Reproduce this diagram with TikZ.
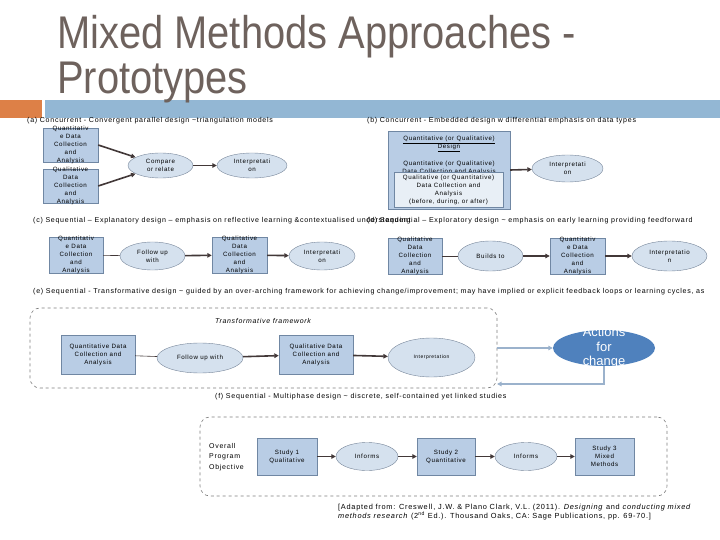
\documentclass[tikz,border=0pt]{standalone}
\usepackage{fontspec}
\setmainfont{Liberation Sans}
\newfontfamily\spaced[LetterSpace=10]{Liberation Sans}
\usetikzlibrary{shapes.geometric,arrows.meta}
\definecolor{titlebrown}{RGB}{110,98,93}
\definecolor{orangebar}{RGB}{221,128,71}
\definecolor{bluebar}{RGB}{147,183,212}
\definecolor{boxfill}{RGB}{185,205,229}
\definecolor{boxline}{RGB}{112,135,163}
\definecolor{innerfill}{RGB}{232,239,246}
\definecolor{ellfill}{RGB}{213,225,238}
\definecolor{ellline}{RGB}{118,133,153}
\definecolor{arrdark}{RGB}{66,56,56}
\definecolor{arrlight}{RGB}{155,178,204}
\definecolor{actfill}{RGB}{79,129,189}
\definecolor{framegray}{RGB}{125,125,125}
\begin{document}
\begin{tikzpicture}[x=1bp,y=-1bp,
	captxt/.style={anchor=west, inner sep=0pt, font=\spaced\fontsize{7.1}{9}\selectfont},
	nodetxt/.style={align=center, inner sep=0pt, font=\spaced\fontsize{6.2}{8}\selectfont},
	databox/.style={draw=boxline, fill=boxfill, inner sep=0pt, nodetxt},
	phase/.style={ellipse, draw=ellline, fill=ellfill, inner sep=0pt, nodetxt},
	heavy/.style={draw=arrdark, line width=1.6bp, -{Triangle[length=4.5bp,width=4.5bp]}},
	plainlink/.style={draw=arrdark, line width=0.6bp},
	lightarr/.style={draw=arrlight, line width=1.6bp, -{Triangle[length=4.5bp,width=4.5bp]}},
	frame/.style={draw=framegray, dashed, line width=0.6bp, rounded corners=10bp, inner sep=0pt}]
	\useasboundingbox (0,0) rectangle (720,540);
	\fill[orangebar] (0,100) rectangle (42,118);
	\fill[bluebar] (45,100) rectangle (720,118);
	\node[anchor=north west, inner sep=0pt, align=left, text=titlebrown,
		font=\fontsize{46}{45}\selectfont] (title) at (57,15)
		{\scalebox{0.87}[1]{Mixed Methods Approaches -}\\\scalebox{0.87}[1]{Prototypes}};
	% (a)
	\node[captxt] (capa) at (27,121) {(a) Concurrent - Convergent parallel design \textasciitilde triangulation models};
	\node[databox, minimum width=55bp, minimum height=34bp,
		label={[nodetxt]center:{Quantitativ\\e Data\\Collection\\and\\Analysis}}] (quanta) at (70.5,145) {};
	\node[databox, minimum width=55bp, minimum height=34bp,
		label={[nodetxt]center:{Qualitative\\Data\\Collection\\and\\Analysis}}] (quala) at (70.5,186) {};
	\node[phase, minimum width=65bp, minimum height=25bp] (compare) at (160.5,165.5) {Compare\\or relate};
	\node[phase, minimum width=70bp, minimum height=25bp] (interpa) at (252,165.5) {Interpretati\\on};
	\draw[heavy] (quanta.east) -- (compare);
	\draw[heavy] (quala.east) -- (compare);
	\draw[heavy] (compare) -- (interpa);
	% (b)
	\node[captxt] (capb) at (367,121) {(b) Concurrent - Embedded design w differential emphasis on data types};
	\node[databox, minimum width=122bp, minimum height=78bp] (design) at (449,170) {};
	\node[nodetxt, anchor=north] (designtxt) at (449,136)
		{\underline{Quantitative (or Qualitative)}\\\underline{Design}};
	\node[nodetxt, anchor=north] (maintxt) at (449,161)
		{Quantitative (or Qualitative)\\Data Collection and Analysis};
	\node[databox, fill=innerfill, minimum width=109bp, minimum height=35bp] (embedded) at (448.5,189.5)
		{Qualitative (or Quantitative)\\Data Collection and\\Analysis\\(before, during, or after)};
	\node[phase, minimum width=71bp, minimum height=27bp] (interpb) at (567.5,168.5) {Interpretati\\on};
	\draw[heavy] (design.east) -- (interpb);
	% (c)
	\node[captxt] (capc) at (33,221) {(c) Sequential – Explanatory design – emphasis on reflective learning \&contextualised understanding};
	\node[databox, minimum width=54bp, minimum height=36bp,
		label={[nodetxt]center:{Quantitativ\\e Data\\Collection\\and\\Analysis}}] (quantc) at (76,255) {};
	\node[phase, minimum width=65bp, minimum height=28bp] (followc) at (152.5,256) {Follow up\\with};
	\node[databox, minimum width=55bp, minimum height=36bp,
		label={[nodetxt]center:{Qualitative\\Data\\Collection\\and\\Analysis}}] (qualc) at (239.5,255) {};
	\node[phase, minimum width=66bp, minimum height=28bp] (interpc) at (322,256) {Interpretati\\on};
	\draw[plainlink] (quantc) -- (followc);
	\draw[heavy] (followc) -- (qualc);
	\draw[heavy] (qualc) -- (interpc);
	% (d)
	\node[captxt] (capd) at (367,221) {(d) Sequential – Exploratory design \textasciitilde\ emphasis on early learning providing feedforward};
	\node[databox, minimum width=54bp, minimum height=36bp,
		label={[nodetxt]center:{Qualitative\\Data\\Collection\\and\\Analysis}}] (quald) at (415,256) {};
	\node[phase, minimum width=65bp, minimum height=30bp] (builds) at (490.5,256) {Builds to};
	\node[databox, minimum width=55bp, minimum height=36bp,
		label={[nodetxt]center:{Quantitativ\\e Data\\Collection\\and\\Analysis}}] (quantd) at (577.5,256) {};
	\node[phase, minimum width=75bp, minimum height=30bp] (interpd) at (669.5,256) {Interpretatio\\n};
	\draw[plainlink] (quald) -- (builds);
	\draw[heavy] (builds) -- (quantd);
	\draw[heavy] (quantd) -- (interpd);
	% (e)
	\node[captxt] (cape) at (33,292) {(e) Sequential - Transformative design \textasciitilde\ guided by an over-arching framework for achieving change/improvement; may have implied or explicit feedback loops or learning cycles, as};
	\node[frame, minimum width=467bp, minimum height=80bp] (transform) at (263.5,348) {};
	\node[nodetxt, font=\spaced\itshape\fontsize{7}{8}\selectfont] (transtxt) at (263,321) {Transformative framework};
	\node[databox, minimum width=74bp, minimum height=39bp] (quante) at (98,354.5) {Quantitative Data\\Collection and\\Analysis};
	\node[phase, minimum width=86bp, minimum height=30bp] (followe) at (200,358) {Follow up with};
	\node[databox, minimum width=74bp, minimum height=39bp] (quale) at (316,354.5) {Qualitative Data\\Collection and\\Analysis};
	\node[phase, minimum width=87bp, minimum height=39bp, font=\spaced\fontsize{5}{6}\selectfont] (interpe) at (431.5,357.5) {Interpretation};
	\node[ellipse, fill=actfill, inner sep=0pt, minimum width=102bp, minimum height=36bp,
		label={[align=center, text=white, font=\fontsize{13}{14.5}\selectfont]center:{Actions\\for\\change}}] (actions) at (604,348) {};
	\coordinate (back) at (497,384);
	\draw[plainlink] (quante) -- (followe);
	\draw[heavy] (followe) -- (quale);
	\draw[heavy] (quale) -- (interpe);
	\draw[lightarr] (transform.east) -- (actions);
	\draw[lightarr] (actions.south) |- (back);
	% (f)
	\node[captxt] (capf) at (215,397) {(f) Sequential - Multiphase design \textasciitilde\ discrete, self-contained yet linked studies};
	\node[frame, minimum width=467bp, minimum height=79bp] (program) at (433.5,456.5) {};
	\node[anchor=west, align=left, inner sep=0pt, font=\spaced\fontsize{7}{10.5}\selectfont] (objective) at (209,457)
		{Overall\\Program\\Objective};
	\node[databox, minimum width=60bp, minimum height=37bp] (study1) at (287,456.5) {Study 1\\Qualitative};
	\node[phase, minimum width=62bp, minimum height=28bp] (informs1) at (367,456.5) {Informs};
	\node[databox, minimum width=58bp, minimum height=37bp] (study2) at (446,456.5) {Study 2\\Quantitative};
	\node[phase, minimum width=62bp, minimum height=28bp] (informs2) at (526,456.5) {Informs};
	\node[databox, minimum width=59bp, minimum height=37bp] (study3) at (604.5,456.5) {Study 3\\Mixed\\Methods};
	\draw[heavy] (study1) -- (informs1);
	\draw[heavy] (informs1) -- (study2);
	\draw[heavy] (study2) -- (informs2);
	\draw[heavy] (informs2) -- (study3);
	\node[anchor=north west, align=left, inner sep=0pt, font=\spaced\fontsize{7.4}{8}\selectfont] (source) at (338,504)
		{[Adapted from: Creswell, J.W. \& Plano Clark, V.L. (2011). \textit{Designing} and \textit{conducting mixed}\\
		\textit{methods research} (2\textsuperscript{nd} Ed.). Thousand Oaks, CA: Sage Publications, pp. 69-70.]};
\end{tikzpicture}
\end{document}
